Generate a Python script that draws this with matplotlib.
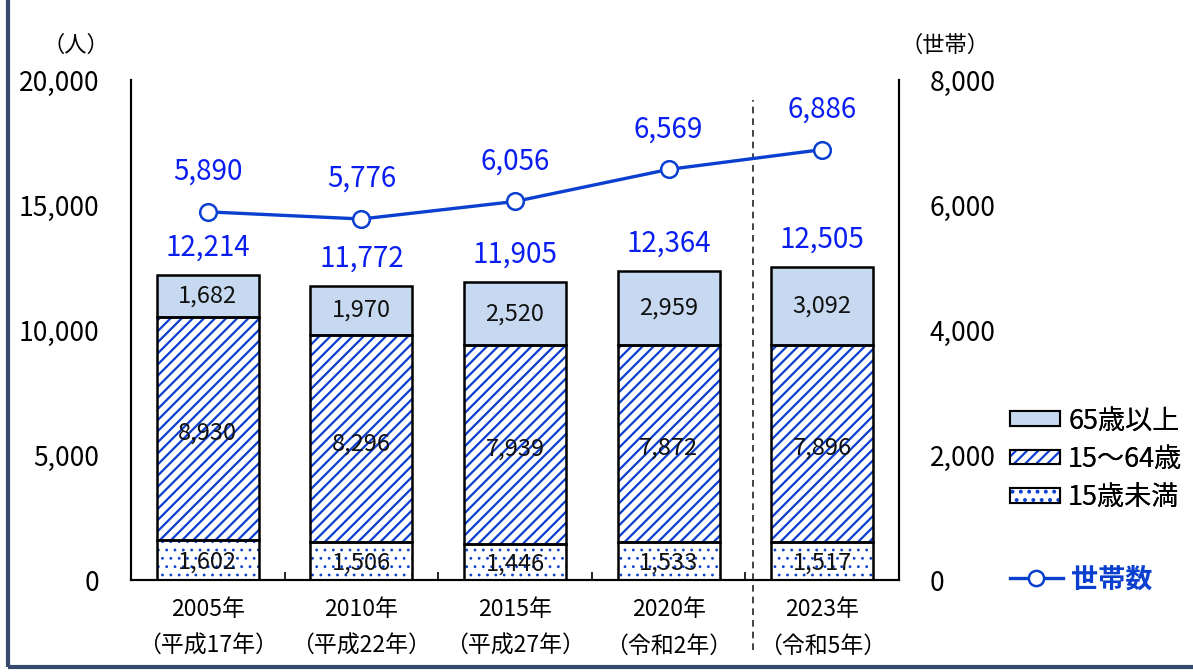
import numpy as np
import matplotlib.pyplot as plt
from matplotlib.patches import Patch, Rectangle
from matplotlib.lines import Line2D
from matplotlib.legend_handler import HandlerTuple

plt.rcParams['font.family'] = ['Noto Sans CJK JP', 'DejaVu Sans']
plt.rcParams['hatch.linewidth'] = 1.6

# data
years = ['2005年\n（平成17年）', '2010年\n（平成22年）', '2015年\n（平成27年）',
         '2020年\n（令和2年）', '2023年\n（令和5年）']
under15 = [1602, 1506, 1446, 1533, 1517]
age15_64 = [8930, 8296, 7939, 7872, 7896]
over65 = [1682, 1970, 2520, 2959, 3092]
households = [5890, 5776, 6056, 6569, 6886]

totals = [a + b + c for a, b, c in zip(under15, age15_64, over65)]

blue = '#0A3FD0'
label_blue = '#0A1EF0'
light = '#C6D9F0'

fig = plt.figure(figsize=(11.93, 6.72), dpi=100)
ax = fig.add_axes([0.1098, 0.1369, 0.6438, 0.7441])
ax2 = ax.twinx()

x = np.arange(len(years))
w = 0.665

# fills / hatches first, then black outlines on top
with plt.rc_context({'hatch.linewidth': 0.8}):
    ax.bar(x, under15, w, color='white', edgecolor=blue, hatch='..', linewidth=0)
ax.bar(x, age15_64, w, bottom=under15, color='white', edgecolor=blue, hatch='///', linewidth=0)
ax.bar(x, over65, w, bottom=np.add(under15, age15_64), color=light, linewidth=0)
for bottom, vals in [(np.zeros(5), under15), (np.array(under15), age15_64),
                     (np.add(under15, age15_64), over65)]:
    ax.bar(x, vals, w, bottom=bottom, fill=False, edgecolor='black', linewidth=1.8)

# value labels inside bars
for i in range(len(x)):
    ax.text(x[i], under15[i] / 2 - 80, f'{under15[i]:,}', ha='center', va='center',
            fontsize=17, color='#111111')
    ax.text(x[i], under15[i] + age15_64[i] / 2 - 200, f'{age15_64[i]:,}', ha='center',
            va='center', fontsize=17, color='#111111')
    ax.text(x[i], under15[i] + age15_64[i] + over65[i] / 2, f'{over65[i]:,}', ha='center',
            va='center', fontsize=17, color='#111111')
    ax.text(x[i], totals[i] + 1100, f'{totals[i]:,}', ha='center', va='center',
            fontsize=20, color=label_blue)

ax.set_xlim(-0.5, 4.5)
ax.set_ylim(0, 20000)
ax.set_yticks(np.arange(0, 20001, 5000))
ax.set_yticklabels([f'{v:,}' for v in range(0, 20001, 5000)], fontsize=19)
ax.set_xticks(x)
ax.set_xticklabels(years, fontsize=16.5, linespacing=1.75)
ax.set_xticks(np.arange(0.5, 4.5, 1), minor=True)
ax.tick_params(axis='x', which='major', length=0, pad=13)
ax.tick_params(axis='x', which='minor', direction='in', length=6, width=1.2)
ax.tick_params(axis='y', length=0, pad=23)

# households line
ax2.plot(x, households, color=blue, linewidth=2.4, marker='o', markersize=12,
         markerfacecolor='white', markeredgecolor=blue, markeredgewidth=1.8, zorder=5)
for i in range(len(x)):
    ax2.text(x[i], households[i] + 640, f'{households[i]:,}', ha='center', va='center',
             fontsize=20, color=label_blue)
ax2.set_ylim(0, 8000)
ax2.set_yticks(np.arange(0, 8001, 2000))
ax2.set_yticklabels([f'{v:,}' for v in range(0, 8001, 2000)], fontsize=19)
ax2.tick_params(axis='y', length=0, pad=22)

for a in (ax, ax2):
    a.spines['top'].set_visible(False)
    for s in ('left', 'right', 'bottom'):
        a.spines[s].set_linewidth(1.5)

# dashed separator before 2023
ax.axvline(3.55, ymin=-0.14, ymax=0.96, color='#222222', linestyle=(0, (4, 3)),
           linewidth=1.2, clip_on=False)

fig.text(0.064, 0.933, '（人）', fontsize=16, ha='center', va='center')
fig.text(0.792, 0.933, '（世帯）', fontsize=16, ha='center', va='center')

outline = dict(fill=False, edgecolor='black', linewidth=1.5)
h65 = Patch(facecolor=light, edgecolor='black', linewidth=1.5)
h15 = (Patch(facecolor='white', edgecolor=blue, hatch='///', linewidth=0), Patch(**outline))
with plt.rc_context({'hatch.linewidth': 0.8}):
    hdot = Patch(facecolor='white', edgecolor=blue, hatch='..', linewidth=0)
h0 = (hdot, Patch(**outline))
leg = fig.legend([h65, h15, h0], ['65歳以上', '15～64歳', '15歳未満'], loc='upper left',
                 bbox_to_anchor=(0.826, 0.43), frameon=False, fontsize=19.5,
                 handlelength=1.85, handleheight=0.45, labelspacing=0.42, handletextpad=0.3,
                 handler_map={tuple: HandlerTuple(ndivide=1, pad=0)})
fig.add_artist(leg)
line_h = Line2D([], [], color=blue, linewidth=2.4, marker='o', markersize=11,
                markerfacecolor='white', markeredgecolor=blue, markeredgewidth=1.8)
leg2 = fig.legend([line_h], ['世帯数'], loc='upper left', bbox_to_anchor=(0.826, 0.195),
                  frameon=False, fontsize=19.5, handlelength=1.95, handletextpad=0.3)
for t in leg2.get_texts():
    t.set_color(blue)
    t.set_fontweight('bold')

# outer frame of the slide
fig.add_artist(Rectangle((0.007, 0.008), 1.2, 1.2, transform=fig.transFigure,
                         fill=False, edgecolor='#34496B', linewidth=3))

fig.savefig('out.png', dpi=100)
